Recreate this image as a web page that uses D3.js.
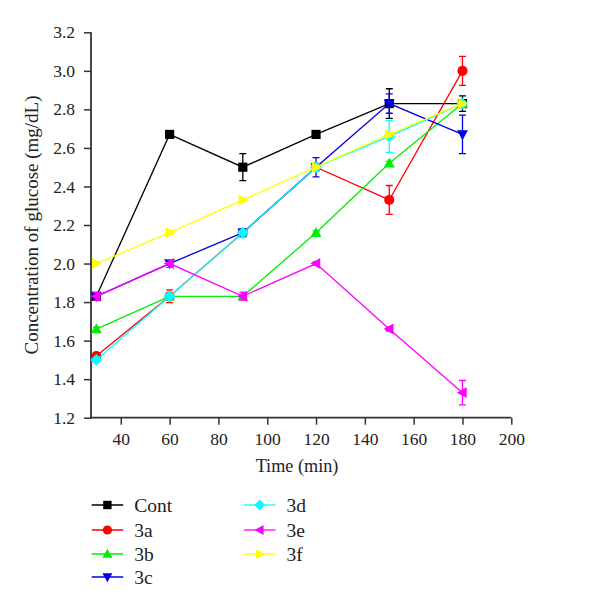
<!DOCTYPE html>
<html><head><meta charset="utf-8">
<script src="https://cdn.jsdelivr.net/npm/d3@7"></script>
<style>body{margin:0;background:#fff}svg{display:block}text{font-family:"Liberation Serif","Times New Roman",serif;fill:#222}</style>
</head><body><svg id="c" width="600" height="610"></svg>
<script>
const times = [30, 60, 90, 120, 150, 180];
const seriesNames = ["Cont", "3a", "3b", "3c", "3d", "3e", "3f"];
const contVals = [1.83, 2.67, 2.50, 2.67, 2.83, 2.83];
const contErr  = [0.01, 0.01, 0.07, 0.01, 0.077, 0.04];
const s3aVals = [1.52, 1.83, 2.16, 2.50, 2.33, 3.00];
const s3aErr  = [0.01, 0.033, 0.01, 0.01, 0.075, 0.075];
const s3bVals = [1.66, 1.83, 1.83, 2.16, 2.52, 2.83];
const s3bErr  = [0.01, 0.01, 0.01, 0.01, 0.01, 0.01];
const s3cVals = [1.83, 2.00, 2.16, 2.50, 2.83, 2.67];
const s3cErr  = [0.01, 0.01, 0.02, 0.05, 0.05, 0.10];
const s3dVals = [1.50, 1.83, 2.16, 2.50, 2.66, 2.83];
const s3dErr  = [0.01, 0.01, 0.01, 0.02, 0.083, 0.01];
const s3eVals = [1.83, 2.00, 1.83, 2.00, 1.66, 1.33];
const s3eErr  = [0.02, 0.02, 0.02, 0.01, 0.01, 0.063];
const s3fVals = [2.00, 2.16, 2.33, 2.50, 2.67, 2.83];
const s3fErr  = [0.01, 0.01, 0.01, 0.01, 0.01, 0.01];
const yTicks = [1.2, 1.4, 1.6, 1.8, 2.0, 2.2, 2.4, 2.6, 2.8, 3.0, 3.2];
const xTicks = [40, 60, 80, 100, 120, 140, 160, 180, 200];
const xTitle = "Time (min)";
const yTitle = "Concentration of glucose (mg/dL)";

const colors = ["#000000", "#ff0000", "#00ee00", "#0000ee", "#00ffff", "#ff00ff", "#ffff00"];
const symbols = ["square", "circle", "up", "down", "diamond", "left", "right"];
const allVals = [contVals, s3aVals, s3bVals, s3cVals, s3dVals, s3eVals, s3fVals];
const allErr = [contErr, s3aErr, s3bErr, s3cErr, s3dErr, s3eErr, s3fErr];

const svg = d3.select("#c");
const x = d3.scaleLinear().domain([27.8, 200]).range([91, 511.3]);
const y = d3.scaleLinear().domain([1.2, 3.2]).range([417.7, 32.3]);

function markerPath(type, s) {
  switch (type) {
    case "square": return `M${-s},${-s}H${s}V${s}H${-s}Z`;
    case "up": return `M0,${-s*1.15}L${s*1.1},${s*0.85}L${-s*1.1},${s*0.85}Z`;
    case "down": return `M0,${s*1.15}L${s*1.1},${-s*0.85}L${-s*1.1},${-s*0.85}Z`;
    case "left": return `M${-s*1.15},0L${s*0.85},${-s*1.1}L${s*0.85},${s*1.1}Z`;
    case "right": return `M${s*1.15},0L${-s*0.85},${-s*1.1}L${-s*0.85},${s*1.1}Z`;
    case "diamond": return `M0,${-s*1.2}L${s*1.2},0L0,${s*1.2}L${-s*1.2},0Z`;
  }
}
function drawMarker(g, type, cx, cy, color, s) {
  if (type === "circle") g.append("circle").attr("cx", cx).attr("cy", cy).attr("r", s * 1.1).attr("fill", color);
  else if (type === "square") g.append("path").attr("d", markerPath(type, s)).attr("transform", `translate(${cx},${cy})`).attr("fill", color);
  else g.append("path").attr("d", markerPath(type, s * 1.08)).attr("transform", `translate(${cx},${cy})`).attr("fill", color);
}

// axes
const yAxis = svg.append("g").attr("transform", "translate(91,0)")
  .call(d3.axisLeft(y).tickValues(yTicks).tickFormat(d3.format(".1f")).tickSize(7).tickPadding(9));
const xAxis = svg.append("g").attr("transform", "translate(0,417.7)")
  .call(d3.axisBottom(x).tickValues(xTicks).tickSize(7).tickPadding(8));
[yAxis, xAxis].forEach(a => {
  a.select(".domain").attr("stroke", "#333").attr("stroke-width", 1.8);
  a.selectAll(".tick line").attr("stroke", "#333").attr("stroke-width", 1.5);
  a.selectAll(".tick text").style("font-size", "17.5px").attr("fill", "#222")
    .style("font-family", '"Liberation Serif", serif');
});
xAxis.select(".domain").attr("d", `M90,0H511.3`);
yAxis.select(".domain").attr("d", `M0,418.5V32.3`);

svg.append("text").attr("x", 297).attr("y", 472).attr("text-anchor", "middle")
  .style("font-size", "18.2px").text(xTitle);
svg.append("text").attr("transform", "translate(38,225) rotate(-90)").attr("text-anchor", "middle")
  .style("font-size", "19px").text(yTitle);

const line = d3.line().x(d => x(d[0])).y(d => y(d[1]));
seriesNames.forEach((name, i) => {
  const g = svg.append("g");
  const pts = times.map((t, j) => [t, allVals[i][j], allErr[i][j]]);
  g.append("path").attr("d", line(pts)).attr("fill", "none").attr("stroke", colors[i]).attr("stroke-width", 1.3);
  pts.forEach(p => {
    const cx = x(p[0]), y1 = y(p[1] + p[2]), y2 = y(p[1] - p[2]);
    g.append("path").attr("d", `M${cx},${y1}V${y2}M${cx-3.5},${y1}H${cx+3.5}M${cx-3.5},${y2}H${cx+3.5}`)
      .attr("stroke", colors[i]).attr("stroke-width", 1.3).attr("fill", "none");
    drawMarker(g, symbols[i], cx, y(p[1]), colors[i], 4.6);
  });
});

// legend
const legendRows = [505, 530, 554, 577];
seriesNames.forEach((name, i) => {
  const col = i < 4 ? 0 : 1;
  const row = i < 4 ? i : i - 4;
  const lx = col === 0 ? 91.7 : 244;
  const ly = legendRows[row];
  const g = svg.append("g");
  g.append("line").attr("x1", lx).attr("x2", lx + 31.5).attr("y1", ly).attr("y2", ly)
    .attr("stroke", colors[i]).attr("stroke-width", 1.3);
  drawMarker(g, symbols[i], lx + 15.7, ly, colors[i], 4.2);
  g.append("text").attr("x", lx + 42.5).attr("y", ly + 6.5).style("font-size", "19.5px").text(name);
});
</script></body></html>
